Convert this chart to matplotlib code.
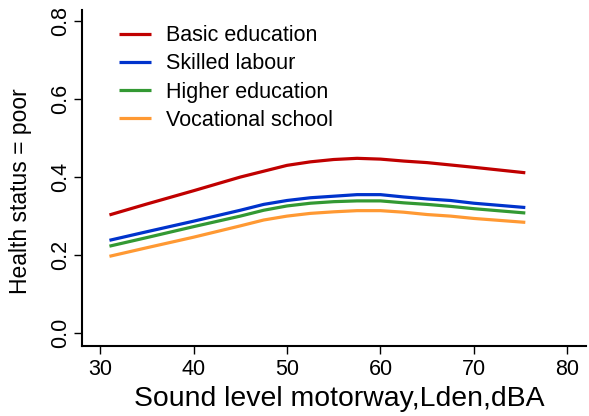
import matplotlib.pyplot as plt
import numpy as np

plt.rcParams['font.family'] = ['Liberation Sans', 'DejaVu Sans']

# predicted probability of poor health by motorway noise, per education group
sound_level = [31, 35, 40, 45, 47.5, 50, 52.5, 55, 57.5, 60, 62.5, 65, 67.5, 70, 75.5]
basic = [0.303, 0.331, 0.365, 0.400, 0.415, 0.430, 0.439, 0.445, 0.448, 0.446,
         0.441, 0.437, 0.431, 0.425, 0.411]
skilled = [0.238, 0.260, 0.287, 0.315, 0.330, 0.340, 0.347, 0.351, 0.355, 0.355,
           0.349, 0.344, 0.340, 0.333, 0.322]
higher = [0.223, 0.245, 0.273, 0.300, 0.315, 0.326, 0.333, 0.337, 0.339, 0.339,
          0.334, 0.330, 0.325, 0.319, 0.308]
vocational = [0.197, 0.219, 0.246, 0.275, 0.290, 0.300, 0.307, 0.311, 0.314, 0.314,
              0.310, 0.304, 0.300, 0.294, 0.284]

labels = ['Basic education', 'Skilled labour', 'Higher education', 'Vocational school']
colors = ['#C00000', '#0033CC', '#339933', '#FF9933']
x_ticks = [30, 40, 50, 60, 70, 80]
y_ticks = [0.0, 0.2, 0.4, 0.6, 0.8]

fig = plt.figure(figsize=(5.89, 4.16), dpi=100)
ax = fig.add_axes([0.139, 0.168, 0.856, 0.808])

for series, lab, col in zip([basic, skilled, higher, vocational], labels, colors):
    ax.plot(sound_level, series, color=col, linewidth=2.3, label=lab,
            solid_capstyle='butt', solid_joinstyle='round')

ax.set_xlim(28.05, 82.0)
ax.set_ylim(-0.033, 0.828)
ax.set_xticks(x_ticks)
ax.set_yticks(y_ticks)
ax.set_yticklabels([f'{v:.1f}' for v in y_ticks], rotation=90, va='center')
ax.tick_params(axis='both', labelsize=15.5, length=6, width=1, direction='out')
ax.tick_params(axis='x', pad=3)
ax.tick_params(axis='y', pad=2)

for side in ['top', 'right']:
    ax.spines[side].set_visible(False)
for side in ['left', 'bottom']:
    ax.spines[side].set_linewidth(1.5)

ax.set_xlabel('Sound level motorway,Lden,dBA', fontsize=20.4)
ax.xaxis.set_label_coords(0.511, -0.118)
ax.set_ylabel('Health status = poor', fontsize=16.5)
ax.yaxis.set_label_coords(-0.099, 0.461)

ax.legend(loc='upper left', bbox_to_anchor=(0.035, 1.012), frameon=False,
          fontsize=15.5, handlelength=1.5, handletextpad=0.7, labelspacing=0.33)

fig.savefig('out.png', dpi=100, facecolor='white')
